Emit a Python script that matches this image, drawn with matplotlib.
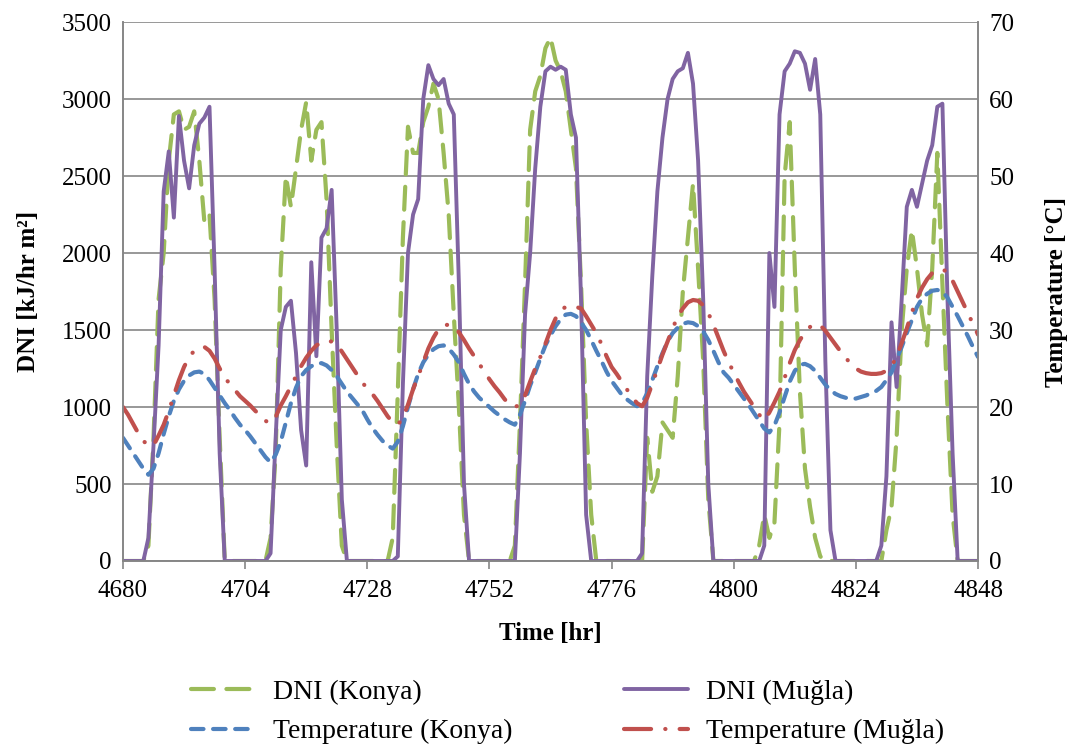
import numpy as np
import matplotlib
matplotlib.use("Agg")
import matplotlib.pyplot as plt

hours = list(range(4680, 4849))

dni_mugla = (
    [0, 0, 0, 0, 0, 150, 750, 1400, 2400, 2660, 2230, 2890, 2600, 2420, 2700, 2840, 2880, 2950, 1900, 700, 0]
    + [0] * 8
    + [50, 800, 1500, 1650, 1690, 1350, 850, 620, 1940, 1330, 2100, 2160, 2410, 1500, 400, 0]
    + [0] * 9
    + [30, 1150, 2000, 2250, 2350, 3000, 3220, 3130, 3090, 3130, 2970, 2900, 1800, 500, 0]
    + [0] * 9
    + [700, 1600, 2000, 2550, 2950, 3180, 3210, 3190, 3210, 3190, 2900, 2750, 1700, 300, 0]
    + [0] * 9
    + [50, 1200, 1850, 2400, 2750, 3000, 3130, 3180, 3200, 3300, 3100, 2600, 1700, 500, 0]
    + [0] * 9
    + [100, 2000, 1650, 2900, 3180, 3230, 3310, 3300, 3230, 3060, 3260, 2900, 1300, 200, 0]
    + [0] * 8
    + [100, 550, 1550, 1130, 1700, 2300, 2410, 2300, 2450, 2600, 2700, 2950, 2970, 1700, 700, 0]
    + [0] * 4
)

dni_konya = (
    [0, 0, 0, 0, 0, 100, 800, 1700, 2000, 2600, 2900, 2920, 2800, 2820, 2920, 2600, 2200, 2250, 1700, 800, 0]
    + [0] * 8
    + [150, 700, 1900, 2500, 2300, 2550, 2800, 2980, 2600, 2800, 2850, 2350, 1500, 750, 100, 0]
    + [0] * 8
    + [150, 1100, 2100, 2820, 2650, 2650, 2850, 2950, 3100, 3000, 2650, 2250, 1600, 1000, 300, 0]
    + [0] * 8
    + [100, 900, 1800, 2800, 3050, 3150, 3330, 3400, 3250, 3180, 3050, 2800, 2550, 1800, 900, 300, 0]
    + [0] * 9
    + [800, 450, 550, 900, 850, 800, 1200, 1750, 2100, 2450, 1900, 1300, 400, 0]
    + [0] * 8
    + [100, 300, 150, 250, 900, 2500, 2850, 1900, 1100, 600, 350, 150, 30, 0]
    + [0] * 11
    + [200, 350, 800, 1500, 1900, 2150, 1900, 1600, 1400, 1900, 2650, 1800, 1000, 300, 0]
    + [0] * 4
)

temp_konya = [
    16, 15, 14, 13, 12, 11.2, 12, 14, 16.5, 18.8, 20.8, 22.3, 23.4, 24.1, 24.5, 24.6, 24.3, 23.5, 22.5, 21.5,
    20.5, 19.6, 18.6, 17.7, 17, 16.2, 15.3, 14.4, 13.5, 12.8, 13.8, 15.5, 18, 20.5, 22.5, 24, 24.8, 25.3, 25.6, 25.7,
    25.4, 24.8, 24, 23, 22, 21.2, 20.4, 19.6, 18.4, 17.3, 16.4, 15.6, 15, 14.6, 15.5, 17.5, 20, 22.3, 24.3, 25.8,
    26.8, 27.5, 27.9, 28, 27.6, 26.8, 25.8, 24.3, 23, 22, 21.2, 20.6, 20, 19.4, 18.9, 18.4, 18, 17.7, 19, 20.8,
    22.8, 24.5, 26.3, 28, 29.3, 30.5, 31.4, 32, 32.1, 31.8, 31, 30, 28.7, 27.3, 26, 24.6, 23.4, 22.5, 21.6, 21,
    20.5, 20.1, 20.5, 21.8, 23.5, 25.3, 27, 28.5, 29.6, 30.3, 30.8, 31, 30.9, 30.5, 29.8, 28.7, 27.3, 25.8, 24.5, 23.8,
    22.9, 22, 21.1, 20.2, 19.2, 18.2, 17.2, 16.7, 17.6, 19.3, 21.3, 23.3, 24.7, 25.5, 25.6, 25.3, 24.7, 23.8, 22.9, 22.2,
    21.7, 21.4, 21.2, 21.1, 21.1, 21.3, 21.5, 21.8, 22.1, 22.6, 23.5, 24.5, 26.2, 27.8, 29.6, 31.3, 33, 34.1, 34.7, 35.1,
    35.2, 35, 34.2, 33, 31.8, 30.5, 29.2, 27.8, 26.5,
]

temp_mugla = [
    20, 19, 17.8, 16.6, 15.6, 15, 15, 16.3, 17.7, 19.5, 21.5, 23.5, 25.2, 26.5, 27.3, 27.7, 27.8, 27.3, 26.3, 25,
    23.8, 23, 22.2, 21.4, 20.8, 20.2, 19.5, 18.9, 18.2, 17.9, 18.7, 20.2, 21.4, 22.7, 24, 25.3, 26.4, 27.3, 28, 28.4,
    28.6, 28.5, 28.2, 27.2, 26.2, 25.2, 24.2, 23.2, 22.4, 21.7, 20.8, 19.8, 18.8, 18, 17.7, 18.6, 20.3, 22.3, 24, 25.8,
    27.6, 29, 30.1, 30.6, 30.7, 30.5, 29.7, 28.7, 27.6, 26.6, 25.6, 24.6, 23.6, 22.7, 21.9, 21, 20.3, 20, 20.3, 21.5,
    23.3, 25, 26.5, 28.2, 30, 31.5, 32.6, 33, 33.1, 33, 32.8, 31.8, 30.7, 29.6, 28.2, 26.6, 25.2, 24.3, 23.3, 22.3,
    21.3, 20.5, 20.1, 21.2, 23, 24.9, 26.8, 28.5, 30.2, 31.8, 32.8, 33.6, 33.9, 33.8, 33.2, 32.2, 30.7, 29, 27.3, 25.8,
    24.5, 23.2, 22, 21, 20, 19, 18.3, 19.3, 20.6, 22, 23.8, 25.7, 27.4, 28.7, 29.7, 30.4, 30.8, 30.6, 29.9, 29,
    28.1, 27.2, 26.4, 25.6, 25, 24.6, 24.4, 24.3, 24.3, 24.4, 24.7, 25.3, 26.5, 28.3, 30.2, 32.3, 34.1, 35.5, 36.6, 37.4,
    37.8, 37.9, 37.5, 36.4, 35, 33.6, 32.2, 30.8, 29.4,
]

x_ticks = list(range(4680, 4849, 24))
dni_ticks = list(range(0, 3501, 500))
temp_ticks = list(range(0, 71, 10))

assert len(dni_mugla) == len(hours), len(dni_mugla)
assert len(dni_konya) == len(hours), len(dni_konya)
assert len(temp_konya) == len(hours), len(temp_konya)
assert len(temp_mugla) == len(hours), len(temp_mugla)

plt.rcParams['font.family'] = ['Liberation Serif', 'DejaVu Serif']
FS = 18
GRAY = '#868686'
C_GREEN = '#9BBB59'
C_PURPLE = '#8064A2'
C_BLUE = '#4F81BD'
C_RED = '#C0504D'

fig = plt.figure(figsize=(10.73, 7.47), dpi=100)
ax = fig.add_axes([0.1146, 0.249, 0.9115 - 0.1146, 0.9705 - 0.249])
ax2 = ax.twinx()

lw = 3.0
l1, = ax.plot(hours, dni_konya, color=C_GREEN, lw=lw, dashes=(5.5, 3.0), dash_capstyle='round', label='DNI (Konya)')
l2, = ax.plot(hours, dni_mugla, color=C_PURPLE, lw=2.8, solid_joinstyle='round', solid_capstyle='round', label='DNI (Muğla)')
l3, = ax2.plot(hours, temp_konya, color=C_BLUE, lw=lw, dashes=(3.0, 2.3), dash_capstyle='round', label='Temperature (Konya)')
l4, = ax2.plot(hours, temp_mugla, color=C_RED, lw=lw, dashes=(6.5, 3.4, 0.05, 3.4), dash_capstyle='round', label='Temperature (Muğla)')

ax.set_xlim(4680, 4848)
ax.set_ylim(0, 3500)
ax2.set_ylim(0, 70)
ax.set_xticks(x_ticks)
ax.set_yticks(dni_ticks)
ax2.set_yticks(temp_ticks)

ax.yaxis.grid(True, color=GRAY, lw=1.2)
ax.set_axisbelow(True)

for a in (ax, ax2):
    for s in a.spines.values():
        s.set_color(GRAY)
        s.set_linewidth(1.2)
    a.spines['top'].set_visible(False)
    a.tick_params(labelsize=FS, colors='black', length=0)
ax.tick_params(axis='x', length=6, width=1.2, color=GRAY, direction='out', pad=8)
ax.tick_params(axis='y', pad=8)
ax2.tick_params(axis='y', pad=8)

ax.set_xlabel('Time [hr]', fontsize=FS, fontweight='bold', labelpad=14)
ax.set_ylabel('DNI [kJ/hr m²]', fontsize=FS, fontweight='bold', labelpad=16)
ax2.set_ylabel('Temperature [°C]', fontsize=FS, fontweight='bold', labelpad=22)

leg = fig.legend(handles=[l1, l3, l2, l4], loc='center', bbox_to_anchor=(0.529, 0.047), ncol=2,
                 fontsize=20, frameon=False, handlelength=2.3, handletextpad=0.65,
                 columnspacing=4.0, labelspacing=0.5)

fig.savefig('out.png', dpi=100)
